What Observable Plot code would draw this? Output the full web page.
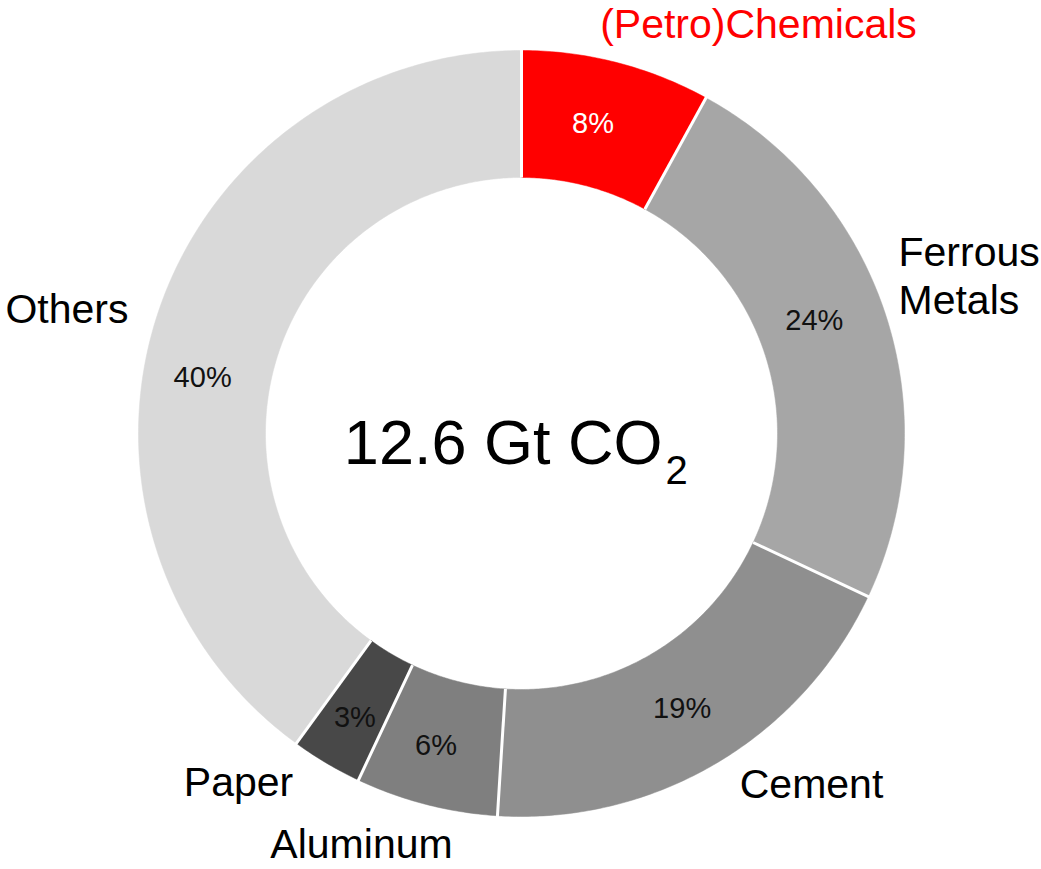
<!DOCTYPE html>
<html>
<head>
<meta charset="utf-8">
<script src="https://cdn.jsdelivr.net/npm/d3@7"></script>
<script src="https://cdn.jsdelivr.net/npm/@observablehq/plot@0.6"></script>
<style>
  html, body { margin: 0; padding: 0; background: #fff; }
  #chart svg { display: block; font-family: "Liberation Sans", Arial, sans-serif; }
</style>
</head>
<body>
<div id="chart"></div>
<script>
// ---- data ----
const categories = ["(Petro)Chemicals", "Ferrous Metals", "Cement", "Aluminum", "Paper", "Others"];
const shares = [8, 24, 19, 6, 3, 40];
const percentLabels = ["8%", "24%", "19%", "6%", "3%", "40%"];
const centerMain = "12.6 Gt CO";
const centerSub = "2";

// ---- style / layout (not data) ----
const sliceColors = ["#ff0000", "#a6a6a6", "#8f8f8f", "#7f7f7f", "#484848", "#d9d9d9"];
const pctColors = ["#ffffff", "#111", "#111", "#111", "#111", "#111"];
const nameColors = ["#ff0000", "#000", "#000", "#000", "#000", "#000"];
const W = 1041, H = 869;
const CX = 521, CY = 433, R = 383, RIN = 256;
const inner = RIN / R;
const px = v => v / R; // pixel offset -> data units
// category label placements, pixel offsets from the centre (x right, y up) + anchor
const nameLayout = [
  {x: 237, y: 396, anchor: "middle"},
  {x: 377, y: 120, anchor: "start"},
  {x: 290, y: -364, anchor: "middle"},
  {x: -160, y: -424, anchor: "middle"},
  {x: -283, y: -362, anchor: "middle"},
  {x: -393, y: 111, anchor: "end"}
];
// nudges of percent labels from slice centroid (pixels, x right, y up)
const pctNudge = [[-8, 0], [-11, 14], [-2, 0], [-6, -3], [-4, -9], [-15, -43]];

// ---- geometry from data ----
const pie = d3.pie().sort(null).startAngle(0).endAngle(2 * Math.PI)(shares);
const slices = [];
pie.forEach((p, i) => {
  const n = Math.max(8, Math.ceil((p.endAngle - p.startAngle) / 0.01));
  for (let k = 0; k <= n; k++) {
    const a = p.startAngle + (p.endAngle - p.startAngle) * k / n;
    slices.push({cat: categories[i], x: Math.sin(a), y: Math.cos(a), color: sliceColors[i]});
  }
  for (let k = n; k >= 0; k--) {
    const a = p.startAngle + (p.endAngle - p.startAngle) * k / n;
    slices.push({cat: categories[i], x: inner * Math.sin(a), y: inner * Math.cos(a), color: sliceColors[i]});
  }
});
const seams = pie.map(p => ({
  x1: inner * Math.sin(p.startAngle), y1: inner * Math.cos(p.startAngle),
  x2: 1.01 * Math.sin(p.startAngle), y2: 1.01 * Math.cos(p.startAngle)
}));
const rMid = (1 + inner) / 2;
const pctData = pie.map((p, i) => {
  const a = (p.startAngle + p.endAngle) / 2;
  return {
    text: percentLabels[i],
    x: rMid * Math.sin(a) + px(pctNudge[i][0]),
    y: rMid * Math.cos(a) + px(pctNudge[i][1]),
    color: pctColors[i]
  };
});
const nameData = categories.map((c, i) => ({
  text: c === "Ferrous Metals" ? "Ferrous\nMetals" : c,
  x: px(nameLayout[i].x), y: px(nameLayout[i].y),
  anchor: nameLayout[i].anchor, color: nameColors[i]
}));

const textMarks = ["start", "middle", "end"].map(anchor =>
  Plot.text(nameData.filter(d => d.anchor === anchor), {
    x: "x", y: "y", text: "text", fill: "color",
    textAnchor: anchor, lineAnchor: "bottom", lineHeight: 1.17,
    fontSize: 41
  })
);

const chart = Plot.plot({
  width: W, height: H,
  margin: 0,
  x: {domain: [-1, 1], range: [CX - R, CX + R], axis: null},
  y: {domain: [-1, 1], range: [CY + R, CY - R], axis: null},
  color: {type: "identity"},
  style: {fontFamily: "'Liberation Sans', Arial, sans-serif", background: "#fff"},
  marks: [
    Plot.line(slices, {x: "x", y: "y", z: "cat", fill: "color", stroke: "color", strokeWidth: 0.5, curve: "linear-closed"}),
    Plot.link(seams, {x1: "x1", y1: "y1", x2: "x2", y2: "y2", stroke: "#fff", strokeWidth: 3}),
    Plot.text(pctData, {x: "x", y: "y", text: "text", fill: "color", fontSize: 29}),
    ...textMarks,
    Plot.text([centerMain], {x: px(662 - CX), y: px(CY - 463), text: d => d, textAnchor: "end", lineAnchor: "bottom", fontSize: 63, fill: "#000"}),
    Plot.text([centerSub], {x: px(665 - CX), y: px(CY - 483), text: d => d, textAnchor: "start", lineAnchor: "bottom", fontSize: 40, fill: "#000"})
  ]
});
document.getElementById("chart").appendChild(chart);
</script>
</body>
</html>
